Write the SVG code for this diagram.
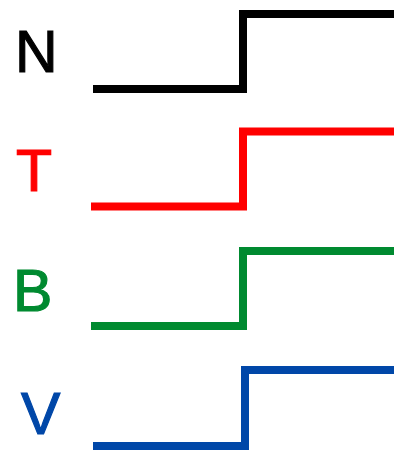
<svg xmlns="http://www.w3.org/2000/svg" width="394" height="453" viewBox="0 0 394 453">
<style>
.lbl{font-family:"Liberation Sans",Arial,sans-serif;font-size:59px;stroke-width:1.2;}
.step{fill:none;stroke-width:8;stroke-linejoin:miter;stroke-linecap:butt;}
</style>
<rect width="394" height="453" fill="#fff"/>
<g id="label-N"><text class="lbl" x="15" y="72" fill="#000" stroke="#000">N</text></g>
<g id="label-T"><text class="lbl" x="16" y="190.5" fill="#ff0000" stroke="#ff0000">T</text></g>
<g id="label-B"><text class="lbl" x="13" y="310.5" fill="#008a30" stroke="#008a30">B</text></g>
<g id="label-V"><text class="lbl" x="21" y="433.5" fill="#0047a8" stroke="#0047a8">V</text></g>
<g id="connectors">
<path class="step" stroke="#000" d="M93,89 H243 V14 H394"/>
<path class="step" stroke="#ff0000" d="M91,206.5 H243 V131.5 H394"/>
<path class="step" stroke="#008a30" d="M91,326 H243 V251 H394"/>
<path class="step" stroke="#0047a8" d="M93,446 H245 V370 H394"/>
</g>
</svg>
